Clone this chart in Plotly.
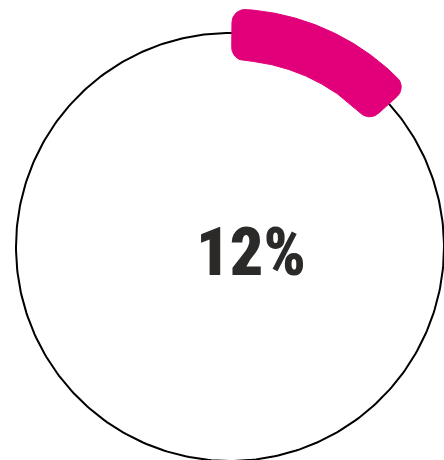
import math
import plotly.graph_objects as go

# ---- data ----
values = [12]            # percent shown by the gauge
labels = ["12%"]
track_total = [100]      # full ring = 100 %

# ---- styling / geometry constants ----
W, H = 444, 460
CX, CY = 230, 247
R_TRACK = 214
R_OUT, R_IN = 238, 187
CORNER = 13
START_DEG = 0.5
CAP_EXT_DEG = 4.3
MAGENTA = "#E2007A"
TEXT_COLOR = "#2b2a29"


def pt(rho, th):
    return CX + rho * math.sin(th), CY - rho * math.cos(th)


# track circle (100 %)
n = 361
tx, ty = [], []
for i in range(n):
    th = 2 * math.pi * i / (n - 1) * track_total[0] / 100
    x, y = pt(R_TRACK, th)
    tx.append(x)
    ty.append(y)

# value arc with rounded corners
sweep = math.radians(values[0] / track_total[0] * 360)
a0 = math.radians(START_DEG)
a1 = a0 + sweep + math.radians(CAP_EXT_DEG)


def corner(rho, th, d_from, d_to, npts=10):
    cx0, cy0 = pt(rho, th)
    f = math.atan2(d_from[1], d_from[0])
    t = math.atan2(d_to[1], d_to[0])
    d = (t - f + math.pi) % (2 * math.pi) - math.pi
    out = []
    for k in range(npts + 1):
        a = f + d * k / npts
        out.append((cx0 + CORNER * math.cos(a), cy0 + CORNER * math.sin(a)))
    return out


def radial(th):
    return (math.sin(th), -math.cos(th))


pts = []
ro = R_OUT - CORNER
ri = R_IN + CORNER
th_os = a0 + math.asin(CORNER / ro)
th_oe = a1 - math.asin(CORNER / ro)
th_is = a0 + math.asin(CORNER / ri)
th_ie = a1 - math.asin(CORNER / ri)

start_n = (-math.cos(a0), -math.sin(a0))
end_n = (math.cos(a1), math.sin(a1))

pts += corner(ro, th_os, start_n, radial(th_os))
m = 80
for k in range(m + 1):
    th = th_os + (th_oe - th_os) * k / m
    pts.append(pt(R_OUT, th))
pts += corner(ro, th_oe, radial(th_oe), end_n)
pts += corner(ri, th_ie, end_n, tuple(-v for v in radial(th_ie)))
for k in range(m + 1):
    th = th_ie + (th_is - th_ie) * k / m
    pts.append(pt(R_IN, th))
pts += corner(ri, th_is, tuple(-v for v in radial(th_is)), start_n)
pts.append(pts[0])

fig = go.Figure()
fig.add_trace(go.Scatter(x=tx, y=ty, mode="lines",
                         line=dict(color="#000000", width=2),
                         hoverinfo="skip", showlegend=False))
fig.add_trace(go.Scatter(x=[p[0] for p in pts], y=[p[1] for p in pts],
                         mode="lines", fill="toself", fillcolor=MAGENTA,
                         line=dict(color=MAGENTA, width=1),
                         hoverinfo="skip", showlegend=False))

fig.add_annotation(x=251, y=252, text=labels[0], showarrow=False,
                   xanchor="center", yanchor="middle",
                   font=dict(family="Liberation Sans Narrow, Roboto Condensed, Roboto, sans-serif",
                             size=66, color=TEXT_COLOR, weight=900))

fig.update_layout(width=W, height=H, margin=dict(l=0, r=0, t=0, b=0),
                  paper_bgcolor="white", plot_bgcolor="white",
                  xaxis=dict(range=[0, W], visible=False, fixedrange=True),
                  yaxis=dict(range=[H, 0], visible=False, fixedrange=True),
                  showlegend=False)

fig.write_html("out.html", config={"displayModeBar": False},
               post_script="document.body.style.margin='0';"
                           "document.body.style.overflow='hidden';")
